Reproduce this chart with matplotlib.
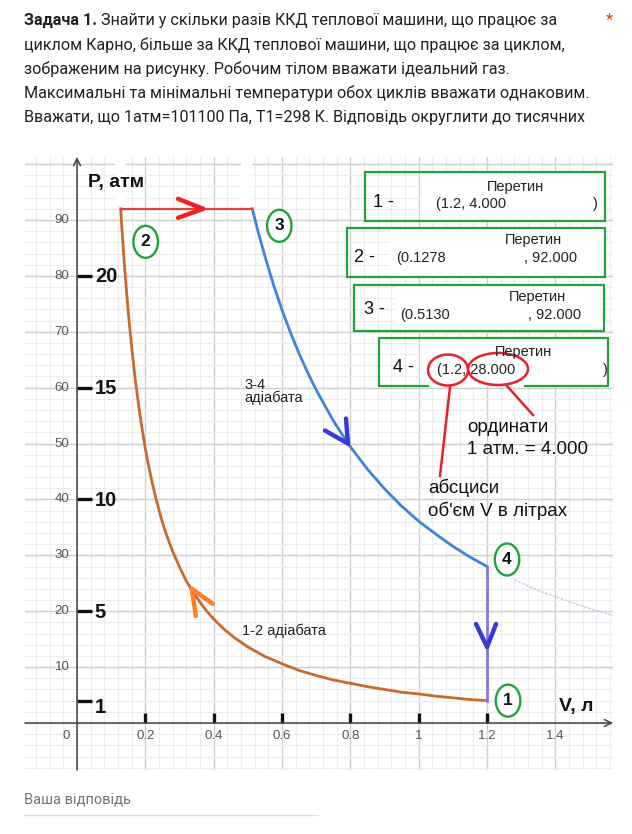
import matplotlib
matplotlib.use("Agg")
import matplotlib.pyplot as plt
from matplotlib.patches import Rectangle, Ellipse
from matplotlib.ticker import MultipleLocator

W, H = 632, 834

# state points of the cycle (V in litres, P in atm)
state_v = [1.2, 0.1278, 0.5130, 1.2]
state_p = [4.0, 92.0, 92.0, 28.0]
state_names = ["1", "2", "3", "4"]

# adiabat 1-2
adiabat12_v = [0.128, 0.13, 0.135, 0.14, 0.15, 0.16, 0.17, 0.18, 0.19, 0.2,
               0.21, 0.22, 0.23, 0.24, 0.25, 0.26, 0.27, 0.28, 0.3, 0.32,
               0.335, 0.36, 0.38, 0.4, 0.43, 0.46, 0.5, 0.55, 0.6, 0.65,
               0.7, 0.75, 0.8, 0.85, 0.9, 0.95, 1.0, 1.05, 1.1, 1.15, 1.2]
adiabat12_p = [92.0, 89.8, 85.2, 81.0, 73.5, 67.2, 61.7, 57.0, 52.8, 49.1,
               45.9, 43.0, 40.4, 38.1, 35.9, 34.0, 32.3, 30.7, 27.9, 25.4,
               23.9, 21.6, 20.0, 18.6, 16.8, 15.3, 13.6, 11.9, 10.6, 9.4,
               8.5, 7.7, 7.1, 6.5, 6.0, 5.5, 5.2, 4.8, 4.5, 4.2, 4.0]

# adiabat 3-4
adiabat34_v = [0.513, 0.53, 0.55, 0.575, 0.6, 0.625, 0.65, 0.675, 0.7, 0.75,
               0.793, 0.85, 0.9, 0.95, 1.0, 1.05, 1.1, 1.15, 1.2]
adiabat34_p = [92.0, 87.9, 83.5, 78.4, 73.9, 69.8, 66.1, 62.7, 59.6, 54.1,
               50.0, 45.4, 41.9, 38.8, 36.1, 33.8, 31.6, 29.7, 28.0]
# faint continuation past point 4
tail34_v = [1.28, 1.35, 1.4, 1.45, 1.5, 1.57]
tail34_p = [25.6, 23.7, 22.6, 21.5, 20.5, 19.2]

p_ticks = [10, 20, 30, 40, 50, 60, 70, 80, 90]
v_ticks = [0.2, 0.4, 0.6, 0.8, 1.0, 1.2, 1.4]
v_tick_labels = ["0.2", "0.4", "0.6", "0.8", "1", "1.2", "1.4"]
v_bold_ticks = [0.2, 0.4, 0.6, 0.8, 1.0, 1.2]
atm_marks = [80, 60, 40, 20, 4]
atm_labels = ["20", "15", "10", "5", "1"]

# direction arrows: tip (V, P)
arrow_tips = [(0.369, 92.0), (0.793, 50.0), (1.2, 13.6), (0.336, 24.0)]

question_lines = [
    "Знайти у скільки разів ККД теплової машини, що працює за",
    "циклом Карно, більше за ККД теплової машини, що працює за циклом,",
    "зображеним на рисунку. Робочим тілом вважати ідеальний газ.",
    "Максимальні та мінімальні температури обох циклів вважати однаковим.",
    "Вважати, що 1атм=101100 Па, Т1=298 К. Відповідь округлити до тисячних",
]

box_nums = ["1 -", "2 -", "3 -", "4 -"]
box_x = ["(1.2, 4.000", "(0.1278", "(0.5130", "(1.2, 28.000"]
box_y = ["", ", 92.000", ", 92.000", ""]

fig = plt.figure(figsize=(W / 100, H / 100), dpi=100)
fig.patch.set_facecolor("white")

sans = ["Liberation Sans", "DejaVu Sans"]
TXT = "#202124"

# ---- chart area ----
ax = fig.add_axes([25 / W, 1 - 770 / H, 588 / W, 613 / H], zorder=1)
ax.set_xlim(-0.1522, 1.5686)
ax.set_ylim(-8.41, 101.27)
ax.xaxis.set_major_locator(MultipleLocator(0.2))
ax.xaxis.set_minor_locator(MultipleLocator(0.04))
ax.yaxis.set_major_locator(MultipleLocator(10))
ax.yaxis.set_minor_locator(MultipleLocator(2))
ax.grid(which="major", color="#cfcfcf", lw=1.0)
ax.grid(which="minor", color="#ececec", lw=0.8)
ax.set_axisbelow(True)
ax.tick_params(which="both", length=0, labelbottom=False, labelleft=False)
for s in ax.spines.values():
    s.set_visible(False)

# axes with arrows
ax.annotate("", xy=(1.5686, 0), xytext=(-0.1522, 0),
            arrowprops=dict(arrowstyle="->,head_length=0.5,head_width=0.25",
                            color="#444444", lw=1.1, shrinkA=0, shrinkB=0))
ax.annotate("", xy=(0, 101.27), xytext=(0, -8.41),
            arrowprops=dict(arrowstyle="->,head_length=0.5,head_width=0.25",
                            color="#444444", lw=1.1, shrinkA=0, shrinkB=0))

for p in p_ticks:
    ax.text(-0.022, p, str(p), ha="right", va="center", fontsize=9.5,
            color="#555555", family=sans)
for v, lab in zip(v_ticks, v_tick_labels):
    ax.text(v, -2.4, lab, ha="center", va="center", fontsize=9.5,
            color="#555555", family=sans)
ax.text(-0.032, -2.4, "0", ha="center", va="center", fontsize=9.5,
        color="#555555", family=sans)

# bold hand-drawn ticks
ax.vlines(v_bold_ticks, 0, 1.8, color="#111111", lw=2.4)
ax.hlines(atm_marks, 0, 0.044, color="#111111", lw=2.4)
for p, lab in zip(atm_marks, atm_labels):
    dy = -7 if lab == "1" else -1
    ax.annotate(lab, (0.052, p), xytext=(0, dy), textcoords="offset pixels",
                ha="left", va="center", fontsize=14.5, fontweight="bold",
                color="#111111", family=sans)

ax.text(1.41, 2.9, "V, л", ha="left", va="center", fontsize=14,
        fontweight="bold", color="#111111", family=sans)

# cycle
ax.plot(adiabat12_v, adiabat12_p, color="#c96a2c", lw=2, solid_joinstyle="round")
ax.plot(adiabat34_v, adiabat34_p, color="#3d85d8", lw=2, solid_joinstyle="round")
ax.plot(tail34_v, tail34_p, color="#b5d0f0", lw=1, ls=(0, (2, 1)))
ax.plot([state_v[1], state_v[2]], [state_p[1], state_p[2]], color="#e3403a", lw=1.6)
ax.plot([state_v[3], state_v[0]], [state_p[3], state_p[0]], color="#8478e0", lw=2)


def chevron(tip, arms, color, lw=3.2):
    for dx, dy in arms:
        ax.annotate("", xy=tip, xytext=(dx, dy), textcoords="offset pixels",
                    arrowprops=dict(arrowstyle="-", color=color, lw=lw,
                                    shrinkA=0, shrinkB=0, capstyle="round"))


chevron(arrow_tips[0], [(-25, 10), (-25, -9)], "#ee2222")
chevron(arrow_tips[1], [(-23, 13), (-2, 25)], "#3a3ad0")
chevron(arrow_tips[2], [(-11, 23), (9, 23)], "#3a3ad0")
chevron(arrow_tips[3], [(21, -15), (4, -27)], "#ff7f27")

# numbered states
label_offsets = [(21, 0), (25, -33), (27, -17), (20, 7)]
for v, p, name, off in zip(state_v, state_p, state_names, label_offsets):
    ax.annotate(name, (v, p), xytext=off, textcoords="offset pixels",
                ha="center", va="center", fontsize=12.5, fontweight="bold",
                color="#111111", family=sans,
                bbox=dict(boxstyle="ellipse,pad=0.22", fc="white",
                          ec="#1fa33a", lw=1.7))

ax.text(0.49, 59.3, "3-4\nадіабата", ha="left", va="center", fontsize=10.5,
        color="#222222", family=sans, linespacing=0.95)
ax.text(0.483, 16.5, "1-2 адіабата", ha="left", va="center", fontsize=10.5,
        color="#222222", family=sans)

# ---- overlay in pixel coordinates ----
ov = fig.add_axes([0, 0, 1, 1], zorder=2)
ov.set_xlim(0, W)
ov.set_ylim(H, 0)
ov.axis("off")
ov.patch.set_alpha(0)

# erased strips above points 2 and 3
ov.add_patch(Rectangle((115, 158), 11, 47, fc="white", ec="none"))
ov.add_patch(Rectangle((241, 158), 11, 47, fc="white", ec="none"))
ov.text(88, 182, "P, атм", ha="left", va="center", fontsize=14,
        fontweight="bold", color="#111111", family=sans)

boxes = [(365, 172, 605, 221), (347, 228, 605, 277),
         (354, 285, 604, 331), (379, 338, 608, 386)]
white_from = [420, 390, 395, 420]
num_x = [373, 354, 364, 393]
per_x = [516, 533, 537, 523]
per_y = [187, 240, 297, 352]
coord_x = [436, 396, 400, 437]
coord_y = [204, 258, 315, 370]
num_y = [202, 257, 310, 367]
green = "#1fa33a"
for i, (x0, y0, x1, y1) in enumerate(boxes):
    ov.add_patch(Rectangle((white_from[i], y0), x1 - white_from[i], y1 - y0,
                           fc="white", ec="none"))
    if i < 3:
        ov.add_patch(Rectangle((x0, y0), x1 - x0, y1 - y0, fc="none",
                               ec=green, lw=1.6))
    else:
        ov.plot([428, x0, x0, x1, x1, 525], [y1, y1, y0, y0, y1, y1],
                color=green, lw=1.6)
    ov.text(num_x[i], num_y[i], box_nums[i], ha="left", va="center",
            fontsize=13, color="#111111", family=sans)
    ov.text(per_x[i], per_y[i], "Перетин", ha="center", va="center",
            fontsize=10.5, color="#222222", family=sans)
    ov.text(coord_x[i], coord_y[i], box_x[i], ha="left", va="center",
            fontsize=10.5, color="#222222", family=sans)
    if box_y[i]:
        ov.text([0, 524, 528][i], coord_y[i], box_y[i], ha="left", va="center",
                fontsize=10.5, color="#222222", family=sans)
    else:
        ov.text(595 if i == 0 else 605, coord_y[i], ")", ha="center",
                va="center", fontsize=10.5, color="#222222", family=sans)

# red markup around point 4 coordinates
red = "#e8202a"
ov.add_patch(Ellipse((448, 370), 40, 31, fc="none", ec=red, lw=1.8))
ov.add_patch(Ellipse((498, 369), 60, 32, fc="none", ec=red, lw=1.8))
ov.plot([450, 440], [387, 476], color=red, lw=1.8)
ov.plot([507, 533], [386, 415], color=red, lw=1.8)

ov.text(467, 427, "ординати", ha="left", va="center", fontsize=13.5,
        color="#111111", family=sans)
ov.text(467, 449, "1 атм. = 4.000", ha="left", va="center", fontsize=13.5,
        color="#111111", family=sans)
ov.text(428, 488, "абсциси", ha="left", va="center", fontsize=13.5,
        color="#111111", family=sans)
ov.text(428, 511, "об'єм V в літрах", ha="left", va="center", fontsize=13.5,
        color="#111111", family=sans)

# ---- question text ----
qfont = ["Roboto", "DejaVu Sans"]
QS = 11.65
bold = ov.text(24, 20, "Задача 1.", ha="left", va="center", fontsize=QS,
               fontweight="bold", color=TXT, family=qfont)
fig.canvas.draw()
bb = bold.get_window_extent()
ov.text(bb.x1 + 4, 20, question_lines[0], ha="left", va="center",
        fontsize=QS, color=TXT, family=qfont)
for k, line in enumerate(question_lines[1:]):
    ov.text(24, 44.5 + 24.3 * k, line, ha="left", va="center", fontsize=QS,
            color=TXT, family=qfont)
ov.text(609, 20, "*", ha="center", va="center", fontsize=12, color="#d93025",
        family=qfont)

ov.text(24, 800, "Ваша відповідь", ha="left", va="center", fontsize=10.5,
        color="#70757a", family=qfont)
ov.plot([24, 318], [815, 815], color="#dadce0", lw=1)

fig.savefig("out.png", dpi=100)
